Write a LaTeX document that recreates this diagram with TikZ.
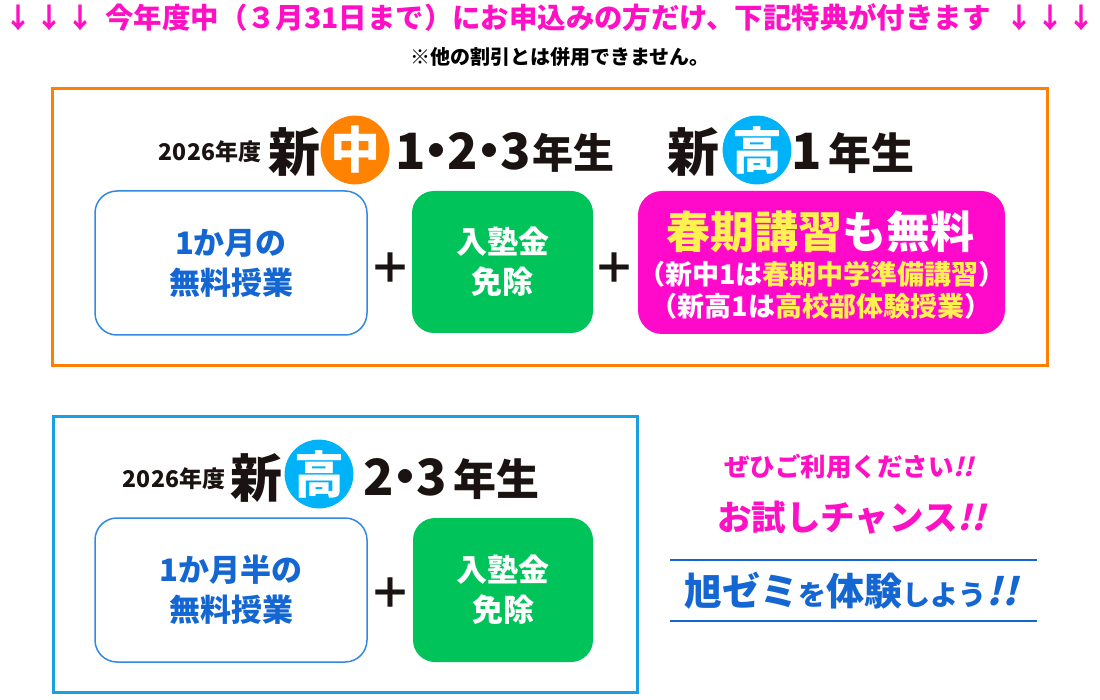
\documentclass[tikz,border=0pt]{standalone}
\usepackage{fontspec}
\setmainfont{Noto Sans CJK JP}
\newfontfamily\slfont{Noto Sans CJK JP}[FakeSlant=0.25]
\definecolor{pinkc}{HTML}{FF10C4}
\definecolor{magc}{HTML}{FF0ACB}
\definecolor{yelc}{HTML}{FFF250}
\definecolor{orc}{HTML}{FF7F00}
\definecolor{orcirc}{HTML}{FF8300}
\definecolor{lbc}{HTML}{1AA0E0}
\definecolor{lbcirc}{HTML}{00B2F8}
\definecolor{bluet}{HTML}{1466D2}
\definecolor{blueb}{HTML}{3388E0}
\definecolor{grc}{HTML}{00C35A}
\definecolor{blk}{HTML}{1A1311}
\newcommand{\fs}[1]{\fontsize{#1}{#1}\selectfont}
\tikzset{
  txt/.style={inner sep=0pt, font=\bfseries},
  frame/.style={draw, line width=3pt, inner sep=0pt},
  whitebox/.style={draw=blueb, line width=1.5pt, rounded corners=22pt, fill=white, inner sep=0pt, text=bluet, align=center, font=\bfseries\fontsize{31}{40}\selectfont},
  greenbox/.style={fill=grc, rounded corners=22pt, inner sep=0pt, text=white, align=center, font=\bfseries\fontsize{31}{40}\selectfont},
  plus/.style={inner sep=0pt, text=blk, font=\bfseries\fs{42}},
  badge/.style={circle, inner sep=0pt, minimum size=66pt, text=white, font=\bfseries\fs{50}},
}
\begin{document}
\begin{tikzpicture}[x=1pt,y=-1pt]
\useasboundingbox (0,0) rectangle (1100,700);
% top line
\node[txt, text=pinkc, font=\bfseries\fs{28}] (arrL) at (50,18) {↓\kern3pt↓\kern3pt↓};
\node[txt, text=pinkc, font=\bfseries\fs{28.4}] (head) at (548,18) {今年度中（３月31日まで）にお申込みの方だけ、下記特典が付きます};
\node[txt, text=pinkc, font=\bfseries\fs{28}] (arrR) at (1050,18) {↓\kern3pt↓\kern3pt↓};
\node[txt, text=black, font=\bfseries\fs{20}] (note) at (560,57) {※他の割引とは併用できません。};
% orange frame
\node[frame, draw=orc, minimum width=995pt, minimum height=277pt] (fr1) at (549.5,227.5) {};
\node[txt, text=blk, font=\bfseries\fs{23}] (yr1) at (210,152) {2026年度};
\node[txt, text=blk, font=\bfseries\fs{52}] (shin1) at (294,152) {新};
\node[badge, fill=orcirc] (chu) at (355,150) {中};
\node[txt, text=blk, font=\bfseries\fs{50}] (g123) at (463,151) {1\kern-14pt・\kern-14pt2\kern-14pt・\kern-14pt3};
\node[txt, text=blk, font=\bfseries\fs{41}] (ns1) at (573,153) {年生};
\node[txt, text=blk, font=\bfseries\fs{52}] (shin2) at (693,152) {新};
\node[badge, fill=lbcirc] (ko1) at (757,150) {高};
\node[txt, text=blk, font=\bfseries\fs{50}] (g1) at (807,151) {1};
\node[txt, text=blk, font=\bfseries\fs{43}] (ns2) at (871,153) {年生};
% boxes row 1
\node[whitebox, minimum width=272pt, minimum height=144pt] (b1) at (231,263) {1か月の\\無料授業};
\node[plus] (p1) at (390,268) {＋};
\node[greenbox, minimum width=181pt, minimum height=142pt] (gb1) at (502.5,262) {入塾金\\免除};
\node[plus] (p2) at (614,268) {＋};
\node[fill=magc, rounded corners=24pt, inner sep=0pt, minimum width=367pt, minimum height=143pt] (mb) at (821.5,262.5) {};
\node[txt, font=\bfseries\fs{44}] (m1) at (820,232) {\textcolor{yelc}{春期講習}\textcolor{white}{も無料}};
\node[txt, font=\bfseries\fs{27}] (m2) at (822,274) {\textcolor{white}{（新中1は}\textcolor{yelc}{春期中学準備講習}\textcolor{white}{）}};
\node[txt, font=\bfseries\fs{27}] (m3) at (821,306) {\textcolor{white}{（新高1は}\textcolor{yelc}{高校部体験授業}\textcolor{white}{）}};
% blue frame
\node[frame, draw=lbc, minimum width=584pt, minimum height=276pt] (fr2) at (345,554) {};
\node[txt, text=blk, font=\bfseries\fs{23}] (yr2) at (174,479) {2026年度};
\node[txt, text=blk, font=\bfseries\fs{52}] (shin3) at (256,478) {新};
\node[badge, fill=lbcirc, minimum size=64pt] (ko2) at (319,474) {高};
\node[txt, text=blk, font=\bfseries\fs{50}] (g23) at (405,477) {2\kern-14pt・\kern-14pt3};
\node[txt, text=blk, font=\bfseries\fs{43}] (ns3) at (496,479) {年生};
\node[whitebox, minimum width=272pt, minimum height=144pt] (b2) at (231,590) {1か月半の\\無料授業};
\node[plus] (p3) at (390,593) {＋};
\node[greenbox, minimum width=180pt, minimum height=144pt] (gb2) at (503,590) {入塾金\\免除};
% right side
\node[txt, text=pinkc, font=\bfseries\fs{25.5}] (r1) at (849,467) {ぜひご利用ください{\slfont\bfseries !!}};
\node[txt, text=pinkc, font=\bfseries\fs{34.5}] (r2) at (851,518) {お試しチャンス{\slfont\bfseries !!}};
\coordinate (la) at (670,560);
\coordinate (lb) at (1037,560);
\coordinate (lc) at (670,621);
\coordinate (ld) at (1037,621);
\draw[bluet, line width=2.5pt] (la) -- (lb);
\draw[bluet, line width=2.5pt] (lc) -- (ld);
\node[txt, text=bluet, font=\bfseries\fs{38}] (r3) at (851,591) {旭ゼミ{\fs{28}を}体験{\fs{28}しよう}{\slfont\bfseries !!}};
\end{tikzpicture}
\end{document}
